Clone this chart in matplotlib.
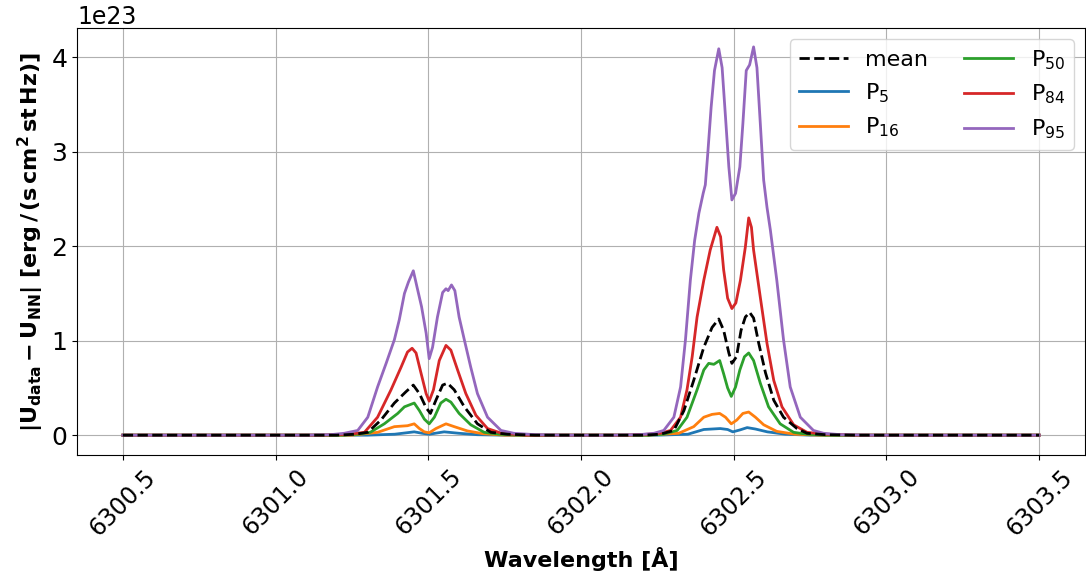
import matplotlib
matplotlib.use("Agg")
import matplotlib.pyplot as plt

# ---- data (units of 1e23) ----
wl_mean = [6300.5, 6301.2, 6301.26, 6301.302, 6301.345, 6301.389, 6301.427, 6301.451, 6301.471, 6301.493,
           6301.507, 6301.525, 6301.547, 6301.563, 6301.585, 6301.618, 6301.661, 6301.705, 6301.76, 6301.85,
           6302.2, 6302.26, 6302.304, 6302.337, 6302.369, 6302.402, 6302.429, 6302.451, 6302.467, 6302.484,
           6302.494, 6302.509, 6302.524, 6302.538, 6302.552, 6302.565, 6302.582, 6302.604, 6302.631,
           6302.663, 6302.707, 6302.74, 6302.8, 6302.9, 6303.5]
mean = [0, 0.0, 0.01, 0.03, 0.16, 0.34, 0.46, 0.53, 0.44, 0.29,
        0.23, 0.37, 0.53, 0.55, 0.48, 0.30, 0.12, 0.03, 0.01, 0.0,
        0.0, 0.01, 0.05, 0.26, 0.58, 0.93, 1.14, 1.23, 1.11, 0.87,
        0.76, 0.83, 1.11, 1.25, 1.30, 1.24, 0.97, 0.66, 0.37,
        0.19, 0.07, 0.02, 0.005, 0.0, 0]

wl_p5 = [6300.5, 6301.3, 6301.39, 6301.454, 6301.48, 6301.503, 6301.552, 6301.60, 6301.66, 6301.75,
         6302.25, 6302.35, 6302.402, 6302.456, 6302.48, 6302.497, 6302.52, 6302.544, 6302.571,
         6302.61, 6302.67, 6302.75, 6303.5]
p5 = [0, 0.0, 0.01, 0.035, 0.02, 0.01, 0.035, 0.02, 0.005, 0.0,
      0.0, 0.01, 0.06, 0.07, 0.06, 0.035, 0.055, 0.08, 0.065,
      0.035, 0.01, 0.0, 0]

wl_p16 = [6300.5, 6301.25, 6301.334, 6301.389, 6301.432, 6301.454, 6301.471, 6301.487, 6301.503,
          6301.525, 6301.558, 6301.585, 6301.628, 6301.68, 6301.75, 6302.22, 6302.32, 6302.369,
          6302.402, 6302.429, 6302.454, 6302.473, 6302.492, 6302.51, 6302.53, 6302.549, 6302.571,
          6302.598, 6302.641, 6302.70, 6302.78, 6303.5]
p16 = [0, 0.0, 0.03, 0.09, 0.10, 0.12, 0.07, 0.035, 0.025,
       0.07, 0.12, 0.09, 0.045, 0.015, 0.0, 0.0, 0.02, 0.09,
       0.19, 0.22, 0.23, 0.19, 0.12, 0.16, 0.23, 0.245, 0.19,
       0.11, 0.04, 0.01, 0.0, 0]

wl_p50 = [6300.5, 6301.22, 6301.27, 6301.31, 6301.356, 6301.40, 6301.422, 6301.438, 6301.454, 6301.471,
          6301.487, 6301.503, 6301.52, 6301.541, 6301.558, 6301.574, 6301.601, 6301.639, 6301.683,
          6301.73, 6301.8, 6302.22, 6302.27, 6302.315, 6302.347, 6302.38, 6302.402, 6302.418, 6302.435,
          6302.454, 6302.467, 6302.48, 6302.492, 6302.506, 6302.52, 6302.535, 6302.549, 6302.565,
          6302.587, 6302.614, 6302.652, 6302.696, 6302.74, 6302.8, 6303.5]
p50 = [0, 0.0, 0.01, 0.03, 0.12, 0.23, 0.30, 0.32, 0.34, 0.26,
       0.17, 0.12, 0.19, 0.34, 0.38, 0.35, 0.23, 0.11, 0.03,
       0.01, 0.0, 0.0, 0.01, 0.05, 0.19, 0.48, 0.69, 0.76, 0.75,
       0.79, 0.65, 0.50, 0.41, 0.51, 0.69, 0.83, 0.87, 0.79,
       0.55, 0.30, 0.12, 0.03, 0.01, 0.0, 0]

wl_p84 = [6300.5, 6301.15, 6301.24, 6301.291, 6301.334, 6301.378, 6301.411, 6301.432, 6301.447,
          6301.46, 6301.476, 6301.493, 6301.503, 6301.517, 6301.536, 6301.558, 6301.574, 6301.596,
          6301.623, 6301.656, 6301.694, 6301.74, 6301.82, 6302.15, 6302.22, 6302.26, 6302.293,
          6302.326, 6302.347, 6302.364, 6302.38, 6302.402, 6302.423, 6302.445, 6302.457, 6302.467,
          6302.48, 6302.494, 6302.507, 6302.522, 6302.538, 6302.549, 6302.558, 6302.565, 6302.587,
          6302.609, 6302.631, 6302.658, 6302.696, 6302.74, 6302.8, 6302.9, 6303.5]
p84 = [0, 0.0, 0.01, 0.03, 0.19, 0.48, 0.72, 0.88, 0.92,
       0.87, 0.66, 0.44, 0.36, 0.48, 0.79, 0.95, 0.90, 0.69,
       0.44, 0.21, 0.07, 0.02, 0.0, 0.0, 0.01, 0.02, 0.05,
       0.19, 0.48, 0.83, 1.25, 1.64, 1.96, 2.20, 2.10, 1.75,
       1.45, 1.34, 1.40, 1.64, 1.99, 2.30, 2.20, 1.96, 1.46,
       0.97, 0.58, 0.30, 0.11, 0.03, 0.01, 0.0, 0]

wl_p95 = [6300.5, 6301.1, 6301.18, 6301.225, 6301.269, 6301.302, 6301.334, 6301.362, 6301.389,
          6301.405, 6301.422, 6301.435, 6301.451, 6301.463, 6301.478, 6301.493, 6301.503, 6301.514,
          6301.53, 6301.547, 6301.558, 6301.565, 6301.576, 6301.587, 6301.601, 6301.618, 6301.639,
          6301.661, 6301.694, 6301.738, 6301.78, 6301.85, 6301.95,
          6302.1, 6302.19, 6302.239, 6302.271, 6302.304, 6302.326, 6302.342, 6302.358, 6302.372,
          6302.386, 6302.40, 6302.407, 6302.415, 6302.426, 6302.437, 6302.451, 6302.462, 6302.473,
          6302.484, 6302.494, 6302.506, 6302.52, 6302.53, 6302.541, 6302.552, 6302.565, 6302.576,
          6302.587, 6302.598, 6302.609, 6302.62, 6302.641, 6302.663, 6302.685, 6302.718, 6302.761,
          6302.794, 6302.85, 6302.95, 6303.5]
p95 = [0, 0.0, 0.005, 0.02, 0.05, 0.19, 0.51, 0.76, 1.01,
       1.22, 1.50, 1.62, 1.74, 1.57, 1.36, 1.08, 0.81, 0.93,
       1.25, 1.51, 1.55, 1.53, 1.59, 1.53, 1.25, 1.01, 0.72,
       0.44, 0.19, 0.05, 0.02, 0.005, 0.0,
       0.0, 0.005, 0.02, 0.05, 0.19, 0.51, 1.01, 1.64, 2.06,
       2.35, 2.56, 2.65, 2.98, 3.47, 3.86, 4.09, 3.89, 3.37,
       2.84, 2.49, 2.56, 2.84, 3.30, 3.86, 3.92, 4.11, 3.89,
       3.30, 2.70, 2.41, 2.17, 1.64, 1.01, 0.51, 0.19, 0.05,
       0.02, 0.005, 0.0, 0]

scale = 1e23
xticks = [6300.5, 6301.0, 6301.5, 6302.0, 6302.5, 6303.0, 6303.5]

fig = plt.figure(figsize=(10.86, 5.80), dpi=100)
ax = fig.add_axes([77 / 1086, 1 - 455 / 580, (1085 - 77) / 1086, (455 - 28) / 580])

ax.plot(wl_mean, [v * scale for v in mean], 'k--', lw=2, label='mean', zorder=5)
ax.plot(wl_p5, [v * scale for v in p5], color='C0', lw=2, label='P$_{5}$')
ax.plot(wl_p16, [v * scale for v in p16], color='C1', lw=2, label='P$_{16}$')
ax.plot(wl_p50, [v * scale for v in p50], color='C2', lw=2, label='P$_{50}$')
ax.plot(wl_p84, [v * scale for v in p84], color='C3', lw=2, label='P$_{84}$')
ax.plot(wl_p95, [v * scale for v in p95], color='C4', lw=2, label='P$_{95}$')

ax.set_xticks(xticks)
ax.set_xticklabels([f"{t:.1f}" for t in xticks], rotation=45, fontsize=17)
ax.tick_params(axis='y', labelsize=18)
ax.yaxis.get_offset_text().set_fontsize(17)
ax.grid(True)
ax.set_xlim(6300.35, 6303.65)
ax.set_ylim(-0.21e23, 4.31e23)

ax.set_xlabel('Wavelength [Å]', fontsize=16, fontweight='bold', labelpad=5)
ax.set_ylabel(r'$\mathbf{|U_{data} - U_{NN}|\ [erg\,/\,(s\,cm^{2}\,st\,Hz)]}$', fontsize=16)

ax.legend(ncol=2, fontsize=16, loc='upper right', handlelength=2.2, columnspacing=1.6)

fig.savefig('out.png', dpi=100)
